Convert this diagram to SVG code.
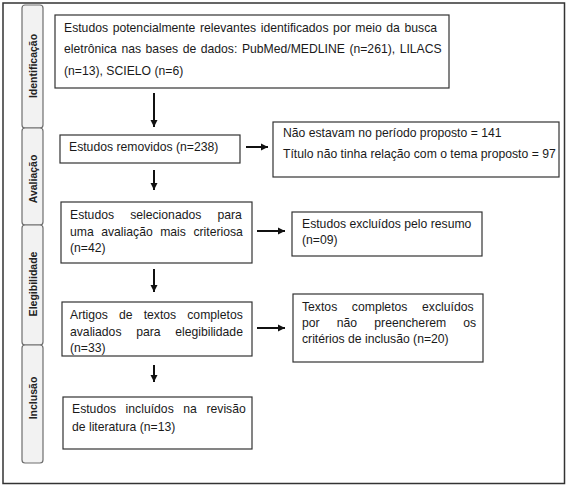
<svg xmlns="http://www.w3.org/2000/svg" width="567" height="488" viewBox="0 0 567 488">
  <style>
    .frame { fill: #ffffff; stroke: #333333; stroke-width: 1.5; }
    .tab { fill: #f2f2f2; stroke: #6e6e6e; stroke-width: 1.2; }
    .tablabel { font-family: "Liberation Sans", Arial, sans-serif; font-size: 10.5px; font-weight: bold; fill: #222222; text-anchor: middle; }
    .box { fill: #ffffff; stroke: #333333; stroke-width: 1.2; }
    .t { font-family: "Liberation Sans", Arial, sans-serif; font-size: 12.2px; fill: #1a1a1a; }
    .conn { stroke: #111111; stroke-width: 2; fill: none; }
  </style>
  <defs>
    <marker id="ah" markerUnits="userSpaceOnUse" markerWidth="8" markerHeight="8" refX="7" refY="4" orient="auto">
      <path d="M0,0.5 L7,4 L0,7.5 z" fill="#111111"/>
    </marker>
  </defs>

  <rect class="frame" x="3" y="3" width="561.5" height="480.5"/>

  <g id="tabs">
    <g id="tab-identificacao">
      <rect class="tab" x="22" y="5" width="21" height="123" rx="3"/>
      <text class="tablabel" transform="translate(36.5,66) rotate(-90)">Identificação</text>
    </g>
    <g id="tab-avaliacao">
      <rect class="tab" x="22" y="128" width="21" height="97" rx="3"/>
      <text class="tablabel" transform="translate(36.5,179) rotate(-90)">Avaliação</text>
    </g>
    <g id="tab-elegibilidade">
      <rect class="tab" x="22" y="225" width="21" height="120" rx="3"/>
      <text class="tablabel" transform="translate(36.5,284) rotate(-90)">Elegibilidade</text>
    </g>
    <g id="tab-inclusao">
      <rect class="tab" x="22" y="345" width="21" height="118" rx="3"/>
      <text class="tablabel" transform="translate(36.5,398) rotate(-90)">Inclusão</text>
    </g>
  </g>

  <g id="connectors">
    <line class="conn" x1="154" y1="93" x2="154" y2="127" marker-end="url(#ah)"/>
    <line class="conn" x1="154" y1="170" x2="154" y2="190" marker-end="url(#ah)"/>
    <line class="conn" x1="154" y1="269" x2="154" y2="292" marker-end="url(#ah)"/>
    <line class="conn" x1="154" y1="365" x2="154" y2="382" marker-end="url(#ah)"/>
    <line class="conn" x1="246" y1="147" x2="268" y2="147" marker-end="url(#ah)"/>
    <line class="conn" x1="257" y1="231" x2="285" y2="231" marker-end="url(#ah)"/>
    <line class="conn" x1="257" y1="328" x2="285" y2="328" marker-end="url(#ah)"/>
  </g>

  <g id="node-identificados">
    <rect class="box" x="55" y="15" width="394" height="73"/>
    <text class="t" x="64" y="32" word-spacing="1.22">Estudos potencialmente relevantes identificados por meio da busca</text>
    <text class="t" x="64" y="53" word-spacing="1.16">eletrônica nas bases de dados: PubMed/MEDLINE (n=261), LILACS</text>
    <text class="t" x="64" y="75">(n=13), SCIELO (n=6)</text>
  </g>

  <g id="node-removidos">
    <rect class="box" x="60" y="135" width="180" height="28"/>
    <text class="t" x="69" y="151">Estudos removidos (n=238)</text>
  </g>

  <g id="node-motivos-remocao">
    <rect class="box" x="273" y="122" width="286" height="55"/>
    <text class="t" x="283" y="137">Não estavam no período proposto = 141</text>
    <text class="t" x="283" y="158">Título não tinha relação com o tema proposto = 97</text>
  </g>

  <g id="node-selecionados">
    <rect class="box" x="61" y="202" width="191" height="61"/>
    <text class="t" x="70" y="219" word-spacing="12.75">Estudos selecionados para</text>
    <text class="t" x="70" y="236" word-spacing="4.1">uma avaliação mais criteriosa</text>
    <text class="t" x="70" y="252">(n=42)</text>
  </g>

  <g id="node-excluidos-resumo">
    <rect class="box" x="292" y="212" width="190" height="44"/>
    <text class="t" x="302" y="228">Estudos excluídos pelo resumo</text>
    <text class="t" x="302" y="244">(n=09)</text>
  </g>

  <g id="node-textos-completos">
    <rect class="box" x="62" y="302" width="190" height="54"/>
    <text class="t" x="70" y="319" word-spacing="7.7">Artigos de textos completos</text>
    <text class="t" x="70" y="336" word-spacing="11.25">avaliados para elegibilidade</text>
    <text class="t" x="70" y="352">(n=33)</text>
  </g>

  <g id="node-excluidos-criterios">
    <rect class="box" x="293" y="294" width="190" height="68"/>
    <text class="t" x="302" y="311" word-spacing="11.25">Textos completos excluídos</text>
    <text class="t" x="302" y="327" word-spacing="13.8">por não preencherem os</text>
    <text class="t" x="302" y="343">critérios de inclusão (n=20)</text>
  </g>

  <g id="node-incluidos">
    <rect class="box" x="63" y="397" width="189" height="52"/>
    <text class="t" x="72" y="413" word-spacing="6.2">Estudos incluídos na revisão</text>
    <text class="t" x="72" y="431">de literatura (n=13)</text>
  </g>
</svg>
